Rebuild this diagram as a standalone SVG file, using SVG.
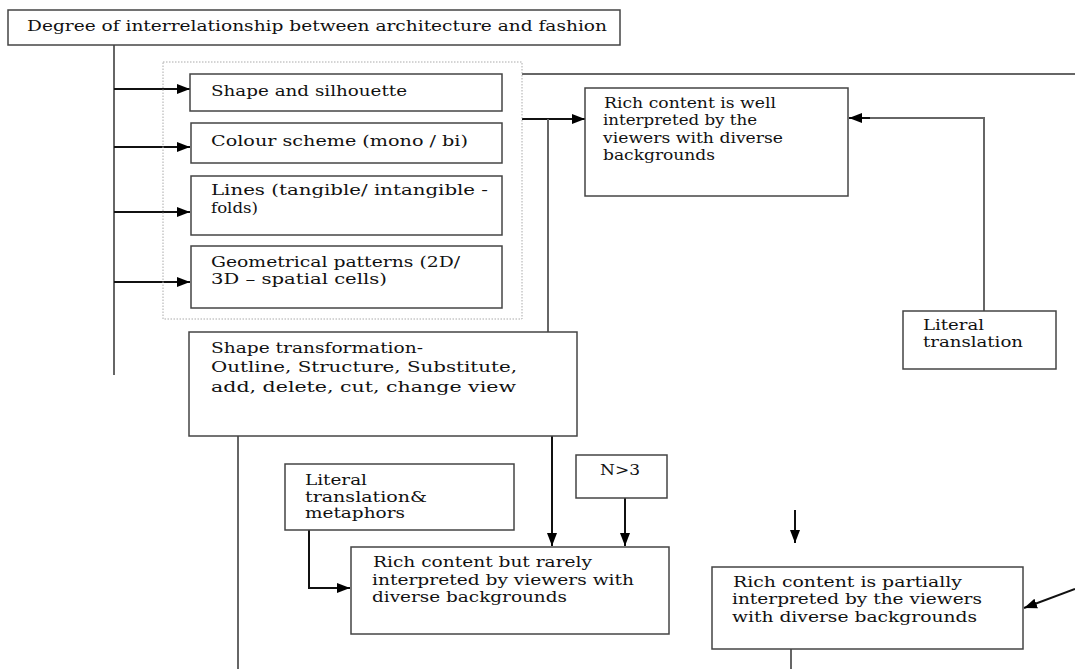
<svg xmlns="http://www.w3.org/2000/svg" width="1075" height="669" viewBox="0 0 1075 669">
<style>
.box{fill:#fff;stroke:#444;stroke-width:1.5}
.dash{fill:none;stroke:#aaa;stroke-width:1;stroke-dasharray:1.5 1.5}
.ln{fill:none;stroke:#666;stroke-width:2}
.ar{fill:none;stroke:#111;stroke-width:2}
text{font-family:"DejaVu Serif","Liberation Serif",serif;font-size:14px;fill:#111}
</style>
<defs>
<marker id="ah" markerUnits="userSpaceOnUse" markerWidth="14" markerHeight="12" refX="13" refY="6" orient="auto">
<path d="M0,1 L13,6 L0,11 Z" fill="#000"/>
</marker>
</defs>
<rect width="1075" height="669" fill="#fff"/>
<g id="connectors">
<line class="ln" x1="114" y1="45" x2="114" y2="375"/>
<line class="ar" x1="114" y1="89" x2="190" y2="89" marker-end="url(#ah)"/>
<line class="ar" x1="114" y1="147" x2="190" y2="147" marker-end="url(#ah)"/>
<line class="ar" x1="114" y1="212" x2="190" y2="212" marker-end="url(#ah)"/>
<line class="ar" x1="114" y1="282" x2="190" y2="282" marker-end="url(#ah)"/>
<line class="ln" x1="522" y1="74" x2="1075" y2="74"/>
<line class="ar" x1="522" y1="119" x2="585" y2="119" marker-end="url(#ah)"/>
<line class="ln" x1="548" y1="119" x2="548" y2="332"/>
<path class="ln" d="M984,311 V118 H862"/>
<line class="ar" x1="870" y1="118" x2="849" y2="118" marker-end="url(#ah)"/>
<line class="ln" x1="238" y1="436" x2="238" y2="669"/>
<line class="ar" x1="552" y1="436" x2="552" y2="546" marker-end="url(#ah)"/>
<path class="ar" d="M309,530 V588 H350" marker-end="url(#ah)"/>
<line class="ar" x1="625" y1="498" x2="625" y2="546" marker-end="url(#ah)"/>
<line class="ar" x1="795" y1="510" x2="795" y2="543" marker-end="url(#ah)"/>
<line class="ln" x1="791" y1="649" x2="791" y2="669"/>
<line class="ar" x1="1075" y1="589" x2="1024" y2="608" marker-end="url(#ah)"/>
</g>
<g id="n-title">
<rect class="box" x="8" y="10" width="612" height="35"/>
<text x="27" y="31" textLength="580" lengthAdjust="spacingAndGlyphs">Degree of interrelationship between architecture and fashion</text>
</g>
<g id="n-group">
<rect class="dash" x="163" y="62" width="359" height="257"/>
</g>
<g id="n-shape">
<rect class="box" x="190" y="74" width="312" height="37"/>
<text x="211" y="96" textLength="196" lengthAdjust="spacingAndGlyphs">Shape and silhouette</text>
</g>
<g id="n-colour">
<rect class="box" x="191" y="123" width="311" height="40"/>
<text x="211" y="146" textLength="257" lengthAdjust="spacingAndGlyphs">Colour scheme (mono / bi)</text>
</g>
<g id="n-lines">
<rect class="box" x="191" y="176" width="311" height="59"/>
<text x="211" y="195" textLength="277" lengthAdjust="spacingAndGlyphs">Lines (tangible/ intangible -</text>
<text x="211" y="213" textLength="47" lengthAdjust="spacingAndGlyphs">folds)</text>
</g>
<g id="n-geom">
<rect class="box" x="191" y="246" width="311" height="62"/>
<text x="211" y="267" textLength="249" lengthAdjust="spacingAndGlyphs">Geometrical patterns (2D/</text>
<text x="211" y="284" textLength="176" lengthAdjust="spacingAndGlyphs">3D – spatial cells)</text>
</g>
<g id="n-well">
<rect class="box" x="585" y="88" width="263" height="108"/>
<text x="604" y="108" textLength="172" lengthAdjust="spacingAndGlyphs">Rich content is well</text>
<text x="603" y="125" textLength="154" lengthAdjust="spacingAndGlyphs">interpreted by the</text>
<text x="603" y="143" textLength="180" lengthAdjust="spacingAndGlyphs">viewers with diverse</text>
<text x="603" y="160" textLength="112" lengthAdjust="spacingAndGlyphs">backgrounds</text>
</g>
<g id="n-literal">
<rect class="box" x="903" y="311" width="153" height="58"/>
<text x="923" y="330" textLength="61" lengthAdjust="spacingAndGlyphs">Literal</text>
<text x="923" y="347" textLength="100" lengthAdjust="spacingAndGlyphs">translation</text>
</g>
<g id="n-transform">
<rect class="box" x="189" y="332" width="388" height="104"/>
<text x="211" y="353" textLength="212" lengthAdjust="spacingAndGlyphs">Shape transformation-</text>
<text x="211" y="372" textLength="306" lengthAdjust="spacingAndGlyphs">Outline, Structure, Substitute,</text>
<text x="211" y="392" textLength="305" lengthAdjust="spacingAndGlyphs">add, delete, cut, change view</text>
</g>
<g id="n-metaphors">
<rect class="box" x="285" y="464" width="229" height="66"/>
<text x="305" y="485" textLength="62" lengthAdjust="spacingAndGlyphs">Literal</text>
<text x="305" y="502" textLength="122" lengthAdjust="spacingAndGlyphs">translation&amp;</text>
<text x="305" y="518" textLength="100" lengthAdjust="spacingAndGlyphs">metaphors</text>
</g>
<g id="n-rarely">
<rect class="box" x="351" y="547" width="318" height="87"/>
<text x="373" y="567" textLength="219" lengthAdjust="spacingAndGlyphs">Rich content but rarely</text>
<text x="372" y="585" textLength="262" lengthAdjust="spacingAndGlyphs">interpreted by viewers with</text>
<text x="372" y="602" textLength="195" lengthAdjust="spacingAndGlyphs">diverse backgrounds</text>
</g>
<g id="n-n3">
<rect class="box" x="576" y="455" width="91" height="43"/>
<text x="600" y="475" textLength="40" lengthAdjust="spacingAndGlyphs">N&gt;3</text>
</g>
<g id="n-partial">
<rect class="box" x="712" y="567" width="311" height="82"/>
<text x="733" y="587" textLength="229" lengthAdjust="spacingAndGlyphs">Rich content is partially</text>
<text x="732" y="604" textLength="250" lengthAdjust="spacingAndGlyphs">interpreted by the viewers</text>
<text x="732" y="622" textLength="245" lengthAdjust="spacingAndGlyphs">with diverse backgrounds</text>
</g>
</svg>
